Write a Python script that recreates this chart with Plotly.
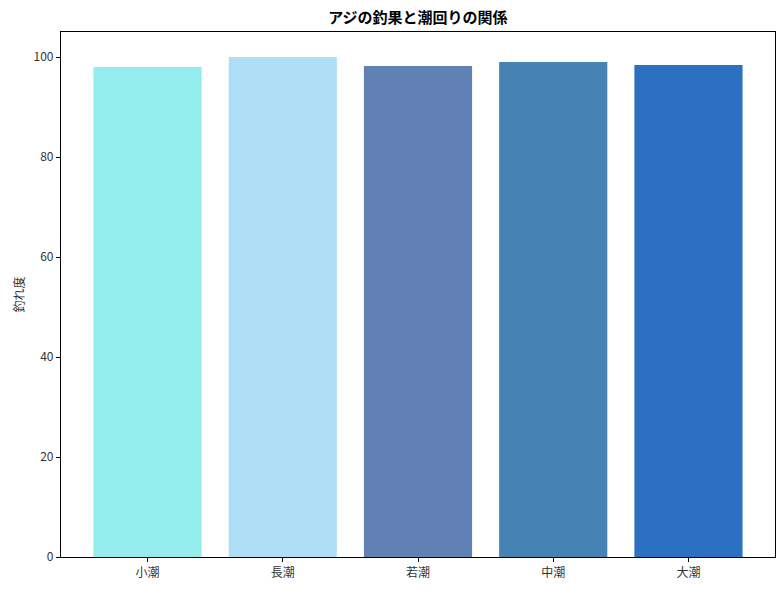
import plotly.graph_objects as go

# data
tides = ['小潮', '長潮', '若潮', '中潮', '大潮']
catch_score = [98.0, 100.0, 98.2, 99.0, 98.4]
bar_colors = ['#92EDEC', '#AFDFF6', '#6180B4', '#4682B4', '#2C71C1']

font_jp = 'Noto Sans CJK JP'

fig = go.Figure()
fig.add_trace(go.Bar(
    x=tides, y=catch_score,
    marker=dict(color=bar_colors, line=dict(width=0)),
    width=0.8,
))

fig.update_layout(
    width=784, height=590,
    margin=dict(l=61, r=9, t=32, b=33),
    paper_bgcolor='white', plot_bgcolor='white',
    font=dict(family=font_jp, size=12, color='#333333'),
    title=dict(text='<b>アジの釣果と潮回りの関係</b>', x=0.533, xanchor='center',
               y=0.97, yanchor='middle',
               font=dict(family=font_jp, size=15, color='black')),
    showlegend=False,
    xaxis=dict(range=[-0.64, 4.64], showline=True, mirror=True, linecolor='black',
               linewidth=1.2, ticks='outside', ticklen=4, tickcolor='black',
               showgrid=False, zeroline=False),
    yaxis=dict(range=[0, 105], showline=True, mirror=True, linecolor='black',
               linewidth=1.2, ticks='outside', ticklen=4, tickcolor='black',
               tickvals=[0, 20, 40, 60, 80, 100], showgrid=False, zeroline=False,
               title=dict(text='釣れ度', standoff=6, font=dict(size=12))),
)

# drop the browser's default body margin so the figure sits at the page corner
fig.write_html('out.html', config={'displayModeBar': False},
               post_script="document.body.style.margin='0';")
